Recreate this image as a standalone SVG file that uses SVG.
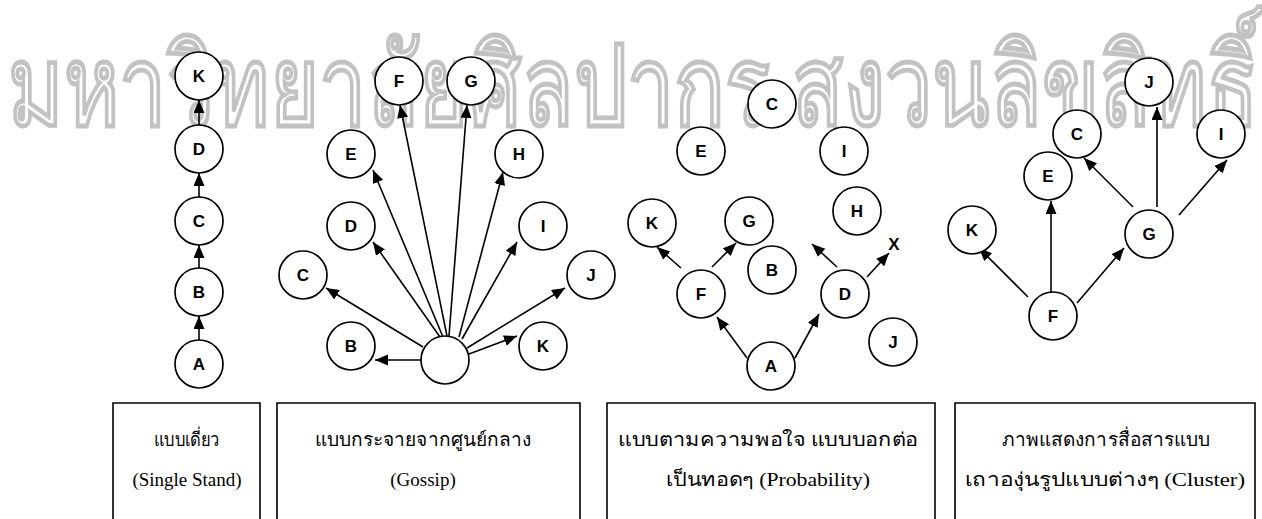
<svg xmlns="http://www.w3.org/2000/svg" width="1262" height="519" viewBox="0 0 1262 519">
<style>
.wm{font-family:"Noto Sans","Noto Sans CJK SC",sans-serif;font-size:112px;font-weight:bold;fill:none;stroke:#c2c2c2;stroke-width:1.3}
.n circle{fill:#fff;stroke:#000;stroke-width:1.7}
.n text{font-family:"Liberation Sans",Arial,sans-serif;font-weight:bold;font-size:17px;text-anchor:middle;fill:#000}
.e line{stroke:#000;stroke-width:1.6;marker-end:url(#ah)}
.box{fill:none;stroke:#000;stroke-width:1.6}
.cap{font-family:"Liberation Serif","Noto Serif",serif;font-size:19px;fill:#000;text-anchor:middle}
</style>
<defs>
<marker id="ah" markerUnits="userSpaceOnUse" markerWidth="14" markerHeight="12" refX="13" refY="5.5" orient="auto">
<path d="M0,0 L13,5.5 L0,11 z" fill="#000"/>
</marker>
</defs>
<rect width="1262" height="519" fill="#fff"/>
<text class="wm" x="8" y="125" textLength="1250" lengthAdjust="spacingAndGlyphs">มหาวิทยาลัยศิลปากร สงวนลิขสิทธิ์</text>

<g id="connectors" class="e">
<line x1="199" y1="340" x2="199" y2="316"/>
<line x1="199" y1="268" x2="199" y2="245"/>
<line x1="199" y1="197" x2="199" y2="173"/>
<line x1="199" y1="125" x2="199" y2="100"/>

<line x1="422" y1="360" x2="375" y2="360"/>
<line x1="423" y1="347" x2="326" y2="288"/>
<line x1="440" y1="337" x2="373" y2="242"/>
<line x1="443" y1="337" x2="373" y2="170"/>
<line x1="447" y1="336" x2="400" y2="105"/>
<line x1="449" y1="336" x2="467" y2="105"/>
<line x1="459" y1="337" x2="503" y2="172"/>
<line x1="462" y1="339" x2="517" y2="242"/>
<line x1="467" y1="348" x2="565" y2="288"/>
<line x1="469" y1="354" x2="517" y2="336"/>

<line x1="747" y1="358" x2="717" y2="317"/>
<line x1="795" y1="358" x2="819" y2="314"/>
<line x1="681" y1="268" x2="657" y2="247"/>
<line x1="712" y1="267" x2="736" y2="243"/>
<line x1="837" y1="267" x2="812" y2="244"/>
<line x1="867" y1="277" x2="889" y2="253"/>

<line x1="1028" y1="297" x2="979" y2="248"/>
<line x1="1051" y1="292" x2="1051" y2="201"/>
<line x1="1077" y1="303" x2="1124" y2="248"/>
<line x1="1133" y1="207" x2="1084" y2="158"/>
<line x1="1157" y1="207" x2="1157" y2="107"/>
<line x1="1179" y1="215" x2="1227" y2="160"/>
</g>

<g id="single">
<g id="s-K" class="n"><circle cx="199" cy="76" r="24"/><text x="199" y="82">K</text></g>
<g id="s-D" class="n"><circle cx="199" cy="149" r="24"/><text x="199" y="155">D</text></g>
<g id="s-C" class="n"><circle cx="199" cy="221" r="24"/><text x="199" y="227">C</text></g>
<g id="s-B" class="n"><circle cx="199" cy="292" r="24"/><text x="199" y="298">B</text></g>
<g id="s-A" class="n"><circle cx="199" cy="364" r="24"/><text x="199" y="370">A</text></g>
</g>

<g id="gossip">
<g id="g-hub" class="n"><circle cx="445" cy="360" r="24"/></g>
<g id="g-B" class="n"><circle cx="351" cy="346" r="24"/><text x="351" y="352">B</text></g>
<g id="g-C" class="n"><circle cx="303" cy="275" r="24"/><text x="303" y="281">C</text></g>
<g id="g-D" class="n"><circle cx="351" cy="226" r="24"/><text x="351" y="232">D</text></g>
<g id="g-E" class="n"><circle cx="351" cy="154" r="24"/><text x="351" y="160">E</text></g>
<g id="g-F" class="n"><circle cx="399" cy="81" r="24"/><text x="399" y="87">F</text></g>
<g id="g-G" class="n"><circle cx="471" cy="81" r="24"/><text x="471" y="87">G</text></g>
<g id="g-H" class="n"><circle cx="519" cy="154" r="24"/><text x="519" y="160">H</text></g>
<g id="g-I" class="n"><circle cx="543" cy="226" r="24"/><text x="543" y="232">I</text></g>
<g id="g-J" class="n"><circle cx="591" cy="275" r="24"/><text x="591" y="281">J</text></g>
<g id="g-K" class="n"><circle cx="543" cy="346" r="24"/><text x="543" y="352">K</text></g>
</g>

<g id="probability">
<g id="p-C" class="n"><circle cx="772" cy="104" r="24"/><text x="772" y="110">C</text></g>
<g id="p-E" class="n"><circle cx="701" cy="151" r="24"/><text x="701" y="157">E</text></g>
<g id="p-I" class="n"><circle cx="844" cy="151" r="24"/><text x="844" y="157">I</text></g>
<g id="p-H" class="n"><circle cx="857" cy="211" r="24"/><text x="857" y="217">H</text></g>
<g id="p-K" class="n"><circle cx="652" cy="223" r="24"/><text x="652" y="229">K</text></g>
<g id="p-G" class="n"><circle cx="749" cy="221" r="24"/><text x="749" y="227">G</text></g>
<g id="p-B" class="n"><circle cx="772" cy="270" r="24"/><text x="772" y="276">B</text></g>
<g id="p-F" class="n"><circle cx="701" cy="294" r="24"/><text x="701" y="300">F</text></g>
<g id="p-D" class="n"><circle cx="845" cy="294" r="24"/><text x="845" y="300">D</text></g>
<g id="p-J" class="n"><circle cx="893" cy="342" r="24"/><text x="893" y="348">J</text></g>
<g id="p-A" class="n"><circle cx="771" cy="366" r="24"/><text x="771" y="372">A</text></g>
<g id="p-X" class="n"><text x="894" y="250">X</text></g>
</g>

<g id="cluster">
<g id="c-J" class="n"><circle cx="1149" cy="82" r="24"/><text x="1149" y="88">J</text></g>
<g id="c-C" class="n"><circle cx="1077" cy="134" r="24"/><text x="1077" y="140">C</text></g>
<g id="c-I" class="n"><circle cx="1221" cy="134" r="24"/><text x="1221" y="140">I</text></g>
<g id="c-E" class="n"><circle cx="1048" cy="176" r="24"/><text x="1048" y="182">E</text></g>
<g id="c-K" class="n"><circle cx="972" cy="230" r="24"/><text x="972" y="236">K</text></g>
<g id="c-G" class="n"><circle cx="1149" cy="234" r="24"/><text x="1149" y="240">G</text></g>
<g id="c-F" class="n"><circle cx="1053" cy="316" r="24"/><text x="1053" y="322">F</text></g>
</g>

<g id="captions">
<g id="cap1"><path class="box" d="M113,525 V403 H260 V525"/>
<text class="cap" x="187" y="446" textLength="66" lengthAdjust="spacingAndGlyphs">แบบเดี่ยว</text>
<text class="cap" x="187" y="486">(Single Stand)</text></g>
<g id="cap2"><path class="box" d="M277,525 V403 H580 V525"/>
<text class="cap" x="423" y="446" textLength="216" lengthAdjust="spacingAndGlyphs">แบบกระจายจากศูนย์กลาง</text>
<text class="cap" x="423" y="486">(Gossip)</text></g>
<g id="cap3"><path class="box" d="M607,525 V403 H935 V525"/>
<text class="cap" x="768" y="446" textLength="300" lengthAdjust="spacingAndGlyphs">แบบตามความพอใจ แบบบอกต่อ</text>
<text class="cap" x="768" y="486" textLength="204" lengthAdjust="spacingAndGlyphs">เป็นทอดๆ (Probability)</text></g>
<g id="cap4"><path class="box" d="M955,525 V403 H1255 V525"/>
<text class="cap" x="1106" y="446" textLength="208" lengthAdjust="spacingAndGlyphs">ภาพแสดงการสื่อสารแบบ</text>
<text class="cap" x="1105" y="486" textLength="280" lengthAdjust="spacingAndGlyphs">เถาองุ่นรูปแบบต่างๆ (Cluster)</text></g>
</g>
</svg>
